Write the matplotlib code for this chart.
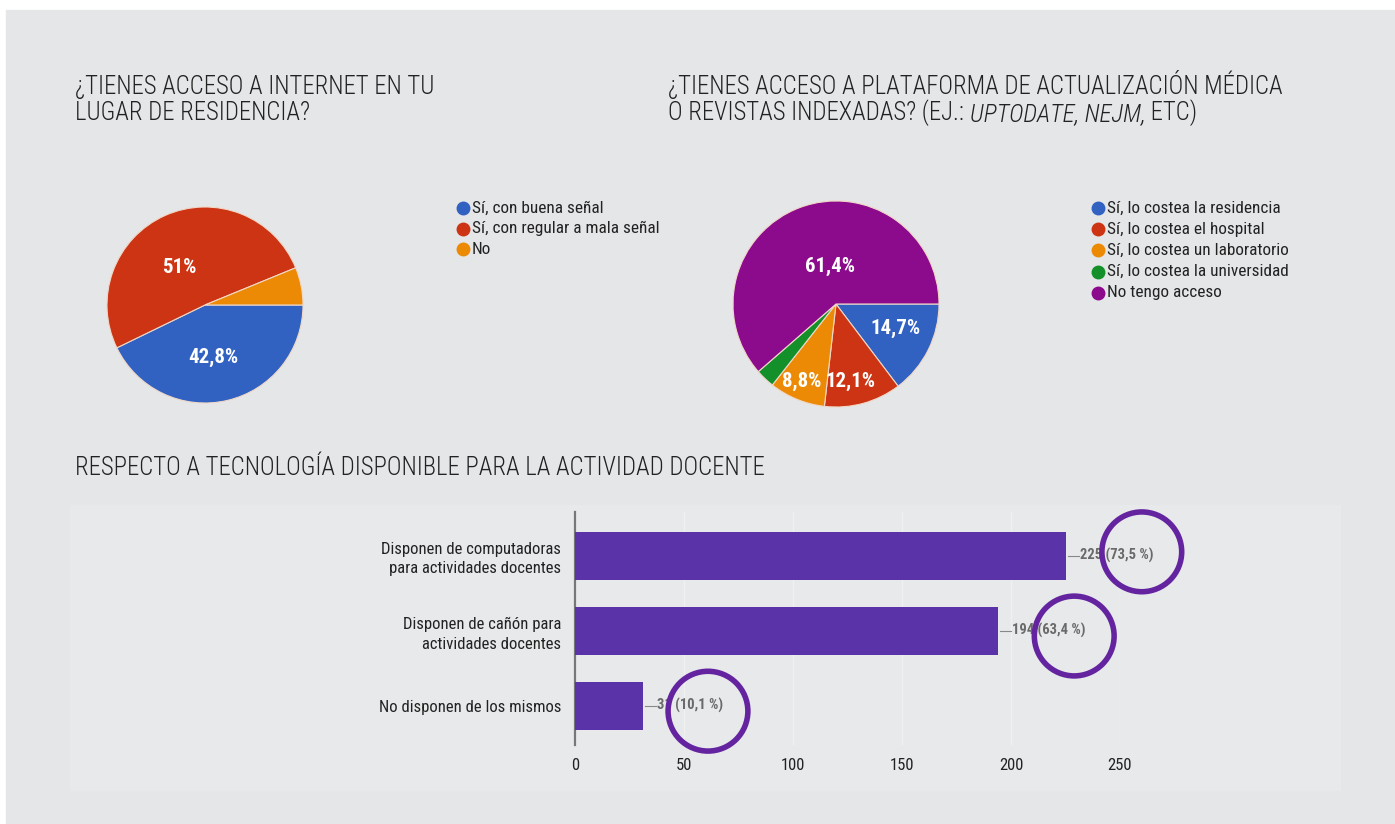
import matplotlib.pyplot as plt
from matplotlib.patches import Rectangle
from matplotlib import font_manager

# fuente condensada, la primera que este instalada
names = {f.name for f in font_manager.fontManager.ttflist}
FONT = next((f for f in ['Roboto Condensed', 'IBM Plex Sans Condensed',
                         'Open Sans Condensed'] if f in names), 'DejaVu Sans')
plt.rcParams['font.family'] = [FONT, 'DejaVu Sans']

# --- datos ---
internet_labels = ['Sí, con buena señal', 'Sí, con regular a mala señal', 'No']
internet_pct = [42.8, 51.0, 6.2]
internet_txt = ['42,8%', '51%', '']
internet_colors = ['#3162c2', '#cc3413', '#ec8a06']

plataforma_labels = ['Sí, lo costea la residencia', 'Sí, lo costea el hospital',
                     'Sí, lo costea un laboratorio', 'Sí, lo costea la universidad',
                     'No tengo acceso']
plataforma_pct = [14.7, 12.1, 8.8, 3.0, 61.4]
plataforma_txt = ['14,7%', '12,1%', '8,8%', '', '61,4%']
plataforma_colors = ['#3162c2', '#cc3413', '#ec8a06', '#14902a', '#8c0a8c']

tec_labels = ['Disponen de computadoras\npara actividades docentes',
              'Disponen de cañón para\nactividades docentes',
              'No disponen de los mismos']
tec_n = [225, 194, 31]
tec_pct = ['73,5 %', '63,4 %', '10,1 %']
xticks = [0, 50, 100, 150, 200, 250]

W, H = 1395, 824
BG = '#e5e6e8'
INK = '#222222'


def px(x, y, w, h):
    # rectangulo en pixeles (desde arriba) -> fraccion de figura
    return [x / W, 1 - (y + h) / H, w / W, h / H]


fig = plt.figure(figsize=(W / 100, H / 100), dpi=100)
fig.patches.append(Rectangle((6 / W, 0), 1, 1 - 10 / H, transform=fig.transFigure,
                             color=BG, zorder=-10))
fig.patches.append(Rectangle((70 / W, 1 - 790 / H), 1270 / W, 285 / H,
                             transform=fig.transFigure, color='#e8e9eb', zorder=-9))

title_kw = dict(fontsize=17.8, color=INK, fontweight='light')
# lineas de titulo colocadas por su linea base
fig.text(75 / W, 1 - 94 / H, '¿TIENES ACCESO A INTERNET EN TU', va='baseline', **title_kw)
fig.text(75 / W, 1 - 120 / H, 'LUGAR DE RESIDENCIA?', va='baseline', **title_kw)
fig.text(668 / W, 1 - 94 / H, '¿TIENES ACCESO A PLATAFORMA DE ACTUALIZACIÓN MÉDICA',
         va='baseline', **title_kw)
t1 = fig.text(668 / W, 1 - 120 / H, 'O REVISTAS INDEXADAS? (EJ.: ', va='baseline',
              **title_kw)
# partes en cursiva encadenadas detras de la linea anterior
a2 = fig.add_artist(plt.Annotation('UPTODATE, NEJM,', xy=(1, 0), xycoords=t1,
                                   va='bottom', ha='left', style='italic', **title_kw))
fig.add_artist(plt.Annotation(' ETC)', xy=(1, 0), xycoords=a2, va='bottom', ha='left',
                              **title_kw))
fig.text(75 / W, 1 - 475 / H, 'RESPECTO A TECNOLOGÍA DISPONIBLE PARA LA ACTIVIDAD DOCENTE',
         va='baseline', **title_kw)


def pie(ax, vals, cols, txts, pos):
    ax.pie(vals, colors=cols, startangle=0, counterclock=False, radius=1,
           wedgeprops=dict(edgecolor='#f0d8c8', linewidth=0.8))
    ax.set_xlim(-1, 1)
    ax.set_ylim(-1, 1)
    ax.set_aspect('equal')
    ax.axis('off')
    for t, (x, y) in zip(txts, pos):
        if t:
            ax.text(x, y, t, color='white', fontsize=15, fontweight='bold',
                    ha='center', va='center')


def legend(labels, cols, x0, y0, dy):
    for i, (lab, c) in enumerate(zip(labels, cols)):
        y = y0 + i * dy
        fig.add_artist(plt.Line2D([x0 / W], [1 - y / H], marker='o', markersize=9,
                                  color=c, transform=fig.transFigure))
        fig.text((x0 + 9) / W, 1 - y / H, lab, fontsize=12.4, color=INK,
                 va='center', ha='left')


# pastel 1
ax1 = fig.add_axes(px(107, 207, 196, 196))
pie(ax1, internet_pct, internet_colors, internet_txt,
    [(0.08, -0.53), (-0.26, 0.38), (0, 0)])
legend(internet_labels, internet_colors, 463, 208, 20.5)

# pastel 2
ax2 = fig.add_axes(px(733, 201, 206, 206))
pie(ax2, plataforma_pct, plataforma_colors, plataforma_txt,
    [(0.58, -0.24), (0.14, -0.75), (-0.33, -0.75), (0, 0), (-0.06, 0.36)])
legend(plataforma_labels, plataforma_colors, 1098, 208, 21.2)

# barras
ax3 = fig.add_axes(px(575, 512, 545, 233))
ypos = list(range(len(tec_n)))
ax3.barh(ypos, tec_n, height=0.64, color='#5a33a8', zorder=3)
ax3.set_xlim(0, 250)
ax3.set_ylim(2.52, -0.58)
ax3.set_facecolor('none')
ax3.set_xticks(xticks)
ax3.set_yticks(ypos)
ax3.set_yticklabels(tec_labels, fontsize=12, color=INK, linespacing=1.35)
ax3.tick_params(length=0, labelsize=12, pad=10)
ax3.tick_params(axis='x', pad=9, labelcolor=INK)
ax3.grid(axis='x', color='#eef0f2', linewidth=1, zorder=0)
for s in ['top', 'right', 'bottom']:
    ax3.spines[s].set_visible(False)
ax3.spines['left'].set_color('#777777')
ax3.spines['left'].set_linewidth(1.6)

circ_dx = [35, 35, 30]
circ_dy = [-0.05, 0.07, 0.07]
for y, n, p, dx, dy in zip(ypos, tec_n, tec_pct, circ_dx, circ_dy):
    ax3.plot([n + 1, n + 6], [y, y], color='#888888', linewidth=0.8, zorder=3)
    ax3.text(n + 6.5, y, f'{n} ({p})', fontsize=10.5, color='#6a6a6a', fontweight='bold',
             va='center', ha='left')
    ax3.scatter([n + dx], [y + dy], s=3300, facecolors='none', edgecolors='#6424a0',
                linewidths=4, zorder=4, clip_on=False)

fig.savefig('out.png', dpi=100)
